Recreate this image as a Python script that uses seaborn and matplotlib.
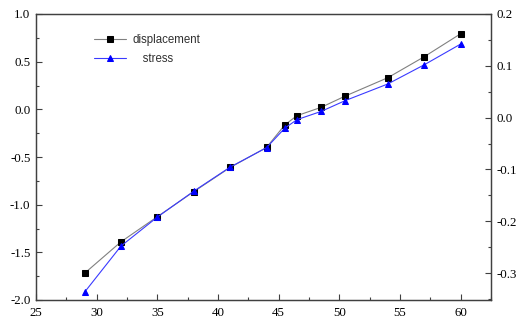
import matplotlib
matplotlib.use("Agg")
import matplotlib.pyplot as plt
import seaborn as sns
import pandas as pd
from matplotlib.ticker import MultipleLocator

x_vals = [29, 32, 35, 38, 41, 44, 45.5, 46.5, 48.5, 50.5, 54, 57, 60]
displacement = [-1.72, -1.39, -1.126, -0.864, -0.61, -0.40, -0.164, -0.067, 0.021, 0.14, 0.332, 0.552, 0.793]
stress = [-0.337, -0.248, -0.192, -0.142, -0.0955, -0.058, -0.0205, -0.004, 0.012, 0.033, 0.065, 0.102, 0.142]

df = pd.DataFrame({"x": x_vals, "displacement": displacement, "stress": stress})

sns.set_style("ticks")
plt.rcParams['font.family'] = ['Liberation Serif', 'DejaVu Serif']
plt.rcParams['xtick.direction'] = 'in'
plt.rcParams['ytick.direction'] = 'in'

fig = plt.figure(figsize=(5.21, 3.22), dpi=100)
ax = fig.add_axes([36/521, 22/322, 455/521, 286/322])
ax2 = ax.twinx()

sns.lineplot(data=df, x="x", y="displacement", ax=ax, color="#808080", lw=0.8,
             marker="s", markersize=4, markerfacecolor="black", markeredgecolor="black",
             label="displacement", legend=False)
sns.lineplot(data=df, x="x", y="stress", ax=ax2, color="#3a3aff", lw=0.8,
             marker="^", markersize=5, markerfacecolor="#0000ff", markeredgecolor="#0000ff",
             label="   stress", legend=False)

ax.set_xlim(25, 62.5)
ax.set_ylim(-2.0, 1.0)
ax2.set_ylim(-0.352, 0.2)
ax.xaxis.set_major_locator(MultipleLocator(5))
ax.xaxis.set_minor_locator(MultipleLocator(2.5))
ax.yaxis.set_major_locator(MultipleLocator(0.5))
ax.yaxis.set_minor_locator(MultipleLocator(0.25))
ax2.yaxis.set_major_locator(MultipleLocator(0.1))
ax2.yaxis.set_minor_locator(MultipleLocator(0.05))
ax.yaxis.set_major_formatter(matplotlib.ticker.FormatStrFormatter('%.1f'))
ax2.yaxis.set_major_formatter(matplotlib.ticker.FormatStrFormatter('%.1f'))

ax.set_xlabel("")
ax.set_ylabel("")
ax2.set_ylabel("")

for a in (ax, ax2):
    for s in a.spines.values():
        s.set_color("#404040")
        s.set_linewidth(0.9)
    a.tick_params(which='major', length=4, width=0.8, color="#404040", labelsize=9.3, labelcolor="black", pad=4)
    a.tick_params(which='minor', length=2.5, width=0.8, color="#404040")
ax.tick_params(axis='x', which='major', pad=5)
ax.tick_params(axis='x', top=False, which='both')
ax2.tick_params(axis='y', left=False, right=True, which='both')

h1, l1 = ax.get_legend_handles_labels()
h2, l2 = ax2.get_legend_handles_labels()
leg = ax.legend(h1 + h2, l1 + l2, loc='upper left', bbox_to_anchor=(0.105, 0.965), frameon=False,
                prop={'family': 'Liberation Sans', 'size': 8.3}, handlelength=2.8,
                handletextpad=0.55, labelspacing=0.55)
for t in leg.get_texts():
    t.set_color("#303030")

fig.savefig("out.png", dpi=100)
